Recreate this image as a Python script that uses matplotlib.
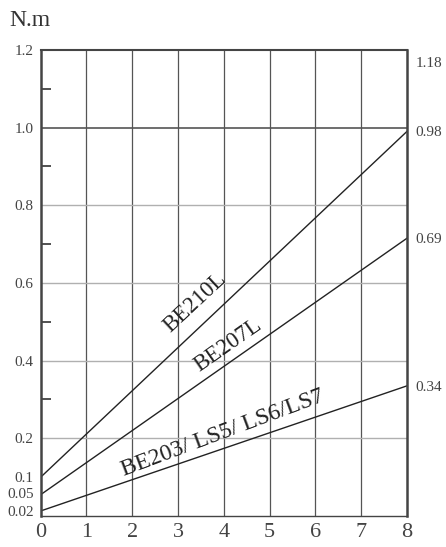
import matplotlib.pyplot as plt

# data
x_end = 8
labels = ['BE210L', 'BE207L', 'BE203/ LS5/ LS6/LS7']
start_vals = [0.1, 0.055, 0.013]
end_vals = [0.99, 0.715, 0.335]
left_ticks = [0.012, 0.058, 0.1, 0.2, 0.4, 0.6, 0.8, 1.0, 1.2]
left_ticklabels = ['0.02', '0.05', '0.1', '0.2', '0.4', '0.6', '0.8', '1.0', '1.2']
right_ticks = [0.335, 0.715, 0.99, 1.17]
right_ticklabels = ['0.34', '0.69', '0.98', '1.18']

plt.rcParams['font.family'] = ['Liberation Serif', 'DejaVu Serif']
txt = '#444444'

fig = plt.figure(figsize=(4.46, 5.47), dpi=100)
ax = fig.add_axes([0.0913, 0.0567, 0.821, 0.852])

for s, e in zip(start_vals, end_vals):
    ax.plot([0, x_end], [s, e], color='#222222', lw=1.0)

ax.set_xlim(0, 8)
ax.set_ylim(0, 1.2)

# grid
for xv in range(1, 8):
    ax.axvline(xv, color='#555555', lw=0.9, zorder=0)
for yv in [0.2, 0.4, 0.6, 0.8]:
    ax.axhline(yv, color='#b0b0b0', lw=1.0, zorder=0)
ax.axhline(1.0, color='#555555', lw=1.2, zorder=0)

for sp in ax.spines.values():
    sp.set_color('#444444')
ax.spines['left'].set_linewidth(1.8)
ax.spines['right'].set_linewidth(1.8)
ax.spines['top'].set_linewidth(1.5)
ax.spines['bottom'].set_linewidth(1.0)

ax.set_xticks(range(0, 9))
ax.tick_params(axis='x', length=0, labelsize=16, labelcolor=txt, pad=5)
ax.set_yticks(left_ticks)
ax.set_yticklabels(left_ticklabels)
ax.set_yticks([0.3, 0.5, 0.7, 0.9, 1.1], minor=True)
ax.tick_params(axis='y', which='major', length=0, labelsize=11, labelcolor=txt, pad=5)
ax.tick_params(axis='y', which='minor', direction='in', length=7, width=1.2, color='#333333')

ax2 = ax.twinx()
ax2.set_ylim(0, 1.2)
ax2.set_yticks(right_ticks)
ax2.set_yticklabels(right_ticklabels)
ax2.tick_params(axis='y', length=0, labelsize=11, labelcolor=txt, pad=6)
for sp in ax2.spines.values():
    sp.set_visible(False)

# line labels
ax.text(3.37, 0.55, labels[0], rotation=43, ha='center', va='center', fontsize=16.5, color='#222222')
ax.text(4.1, 0.44, labels[1], rotation=35, ha='center', va='center', fontsize=16.5, color='#222222')
ax.text(3.98, 0.213, labels[2], rotation=20.5, ha='center', va='center', fontsize=17, color='#222222')

fig.text(0.022, 0.962, 'N.m', fontsize=17, color='#333333', va='center', ha='left')

fig.savefig('out.png', dpi=100)
